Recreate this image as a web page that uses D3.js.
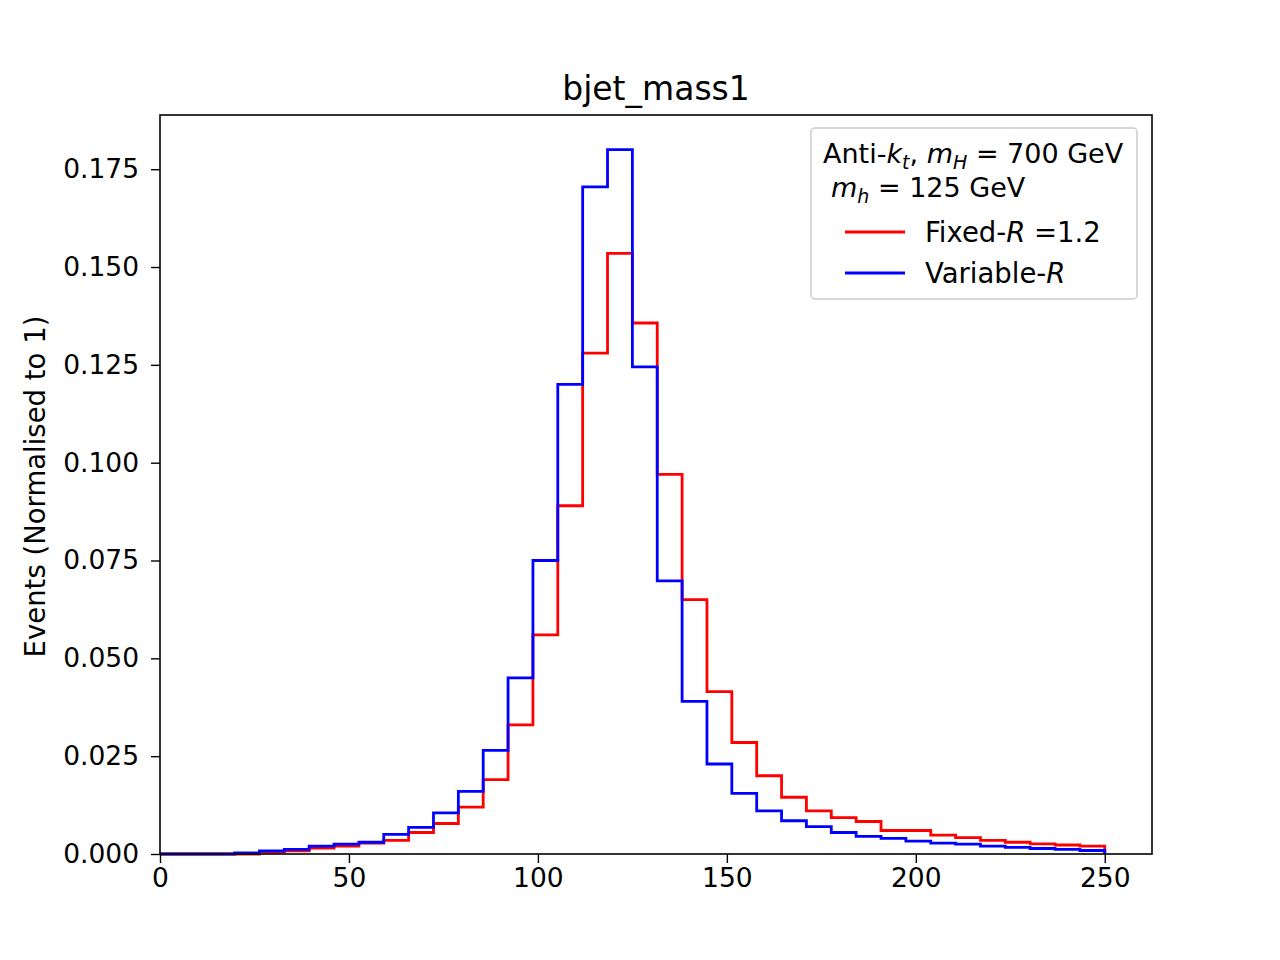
<!DOCTYPE html>
<html><head><meta charset="utf-8">
<script src="https://cdn.jsdelivr.net/npm/d3@7"></script>
<style>body{margin:0;background:#fff}svg{font-family:"DejaVu Sans",sans-serif}</style>
</head><body>
<svg id="mainsvg" width="1280" height="960"></svg>
<script>
// 38 bins over 0..250
let binEdges = d3.range(39).map(k => k * 250 / 38);
let fixedR = [0,0,0,0,0.0005,0.0008,0.0015,0.002,0.0028,0.0035,0.0055,0.0078,0.012,0.019,0.033,0.056,0.089,0.128,0.1535,0.1357,0.097,0.065,0.0415,0.0285,0.02,0.0145,0.011,0.0093,0.0083,0.006,0.006,0.0048,0.0042,0.0035,0.003,0.0026,0.0023,0.002];
let variableR = [0,0,0,0.0003,0.0008,0.0012,0.002,0.0025,0.003,0.005,0.0068,0.0105,0.016,0.0265,0.045,0.075,0.12,0.1705,0.18,0.1245,0.0698,0.039,0.023,0.0155,0.011,0.0085,0.007,0.0055,0.0045,0.004,0.0033,0.0028,0.0025,0.002,0.0017,0.0014,0.0012,0.0009];
let xTicks = [0,50,100,150,200,250];
let yTicks = [0,0.025,0.05,0.075,0.1,0.125,0.15,0.175];

let svg = d3.select("#mainsvg");
let L = 160, R = 1152, T = 115, B = 854;
let x = d3.scaleLinear().domain([0, 262.5]).range([L, R]);
let y = d3.scaleLinear().domain([0, 0.18885]).range([B, T]);

function stepPts(vals) {
    let pts = [[binEdges[0], 0]];
    vals.forEach((v, i) => { pts.push([binEdges[i], v]); pts.push([binEdges[i+1], v]); });
    pts.push([binEdges[binEdges.length-1], 0]);
    return pts;
}
let line = d3.line().x(d => x(d[0])).y(d => y(d[1]));
let series = [{vals: fixedR, color: "#ff0000"}, {vals: variableR, color: "#0000ff"}];
svg.append("g").selectAll("path").data(series).enter().append("path")
    .attr("d", d => line(stepPts(d.vals)))
    .attr("fill", "none").attr("stroke", d => d.color).attr("stroke-width", 2.8);

// axes
let xa = svg.append("g").attr("transform", `translate(0,${B})`)
    .call(d3.axisBottom(x).tickValues(xTicks).tickSize(9).tickPadding(5));
let ya = svg.append("g").attr("transform", `translate(${L},0)`)
    .call(d3.axisLeft(y).tickValues(yTicks).tickSize(9).tickPadding(12).tickFormat(d3.format(".3f")));
[xa, ya].forEach(a => {
    a.select(".domain").remove();
    a.selectAll("text").attr("font-size", 26.5).attr("fill", "#000").attr("font-family", "DejaVu Sans");
    a.selectAll("line").attr("stroke", "#000").attr("stroke-width", 1.4);
});
svg.append("rect").attr("x", L).attr("y", T).attr("width", R-L).attr("height", B-T)
    .attr("fill", "none").attr("stroke", "#000").attr("stroke-width", 1.6);

svg.append("text").attr("x", (L+R)/2).attr("y", 100).attr("text-anchor", "middle")
    .attr("font-size", 33).text("bjet_mass1");
svg.append("text").attr("transform", `translate(45,${(T+B)/2 + 2}) rotate(-90)`)
    .attr("text-anchor", "middle").attr("font-size", 27.5).text("Events (Normalised to 1)");

// legend
let lg = svg.append("g");
lg.append("rect").attr("x", 811).attr("y", 128).attr("width", 326).attr("height", 171).attr("rx", 4)
    .attr("fill", "#fff").attr("fill-opacity", 0.8).attr("stroke", "#ccc").attr("stroke-width", 1.5);
let t1 = lg.append("text").attr("x", 823).attr("y", 163).attr("font-size", 27);
t1.append("tspan").text("Anti-");
t1.append("tspan").attr("font-style", "italic").text("k");
t1.append("tspan").attr("font-style", "italic").attr("font-size", 19).attr("dy", 6).text("t");
t1.append("tspan").attr("dy", -6).text(", ");
t1.append("tspan").attr("font-style", "italic").text("m");
t1.append("tspan").attr("font-style", "italic").attr("font-size", 19).attr("dy", 6).text("H");
t1.append("tspan").attr("dy", -6).text(" = 700 GeV");
let t2 = lg.append("text").attr("x", 831).attr("y", 197).attr("font-size", 27);
t2.append("tspan").attr("font-style", "italic").text("m");
t2.append("tspan").attr("font-style", "italic").attr("font-size", 19).attr("dy", 6).text("h");
t2.append("tspan").attr("dy", -6).text(" = 125 GeV");
let entries = [{label: "Fixed-", it: "R", rest: " =1.2", color: "#ff0000", yy: 232},
               {label: "Variable-", it: "R", rest: "", color: "#0000ff", yy: 273}];
entries.forEach(e => {
    lg.append("line").attr("x1", 845).attr("x2", 905).attr("y1", e.yy).attr("y2", e.yy)
        .attr("stroke", e.color).attr("stroke-width", 2.8);
    let t = lg.append("text").attr("x", 925).attr("y", e.yy + 10).attr("font-size", 27.5);
    t.append("tspan").text(e.label);
    t.append("tspan").attr("font-style", "italic").text(e.it);
    if (e.rest) t.append("tspan").text(e.rest);
});
</script>
</body></html>
